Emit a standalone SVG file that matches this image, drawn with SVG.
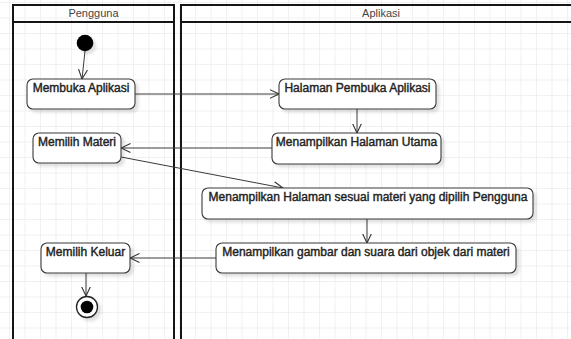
<svg xmlns="http://www.w3.org/2000/svg" width="571" height="339" viewBox="0 0 571 339">
<defs>
<pattern id="grid" x="9" y="2" width="15.5" height="15.5" patternUnits="userSpaceOnUse">
<path d="M0 0V15.5M0 0H15.5" fill="none" stroke="#e3e3e3" stroke-width="1"/>
</pattern>
<filter id="sh" x="-20%" y="-20%" width="150%" height="160%">
<feDropShadow dx="3" dy="3" stdDeviation="1.5" flood-color="#000" flood-opacity="0.12"/>
</filter>
<marker id="arr" viewBox="0 0 10 10" refX="9.5" refY="5" markerWidth="10" markerHeight="10" markerUnits="userSpaceOnUse" orient="auto">
<path d="M0 0.5L9.5 5L0 9.5" fill="none" stroke="#333" stroke-width="1.1"/>
</marker>
<style>
.lane{fill:none;stroke:#151515;stroke-width:2}
.hdr{font-family:"Liberation Sans",Arial,sans-serif;font-size:11px;fill:#444;text-anchor:middle}
.node rect{fill:#fff;stroke:#3a3a3a;stroke-width:1.1;filter:url(#sh)}
.node text{font-family:"Liberation Sans",Arial,sans-serif;font-size:12px;fill:#222;text-anchor:middle;stroke:#222;stroke-width:0.4}
.conn path{fill:none;stroke:#3a3a3a;stroke-width:1;marker-end:url(#arr)}
</style>
</defs>
<rect width="571" height="339" fill="#fff"/>
<rect width="571" height="339" fill="url(#grid)"/>
<g id="lane-pengguna">
<rect x="13" y="5" width="161" height="340" class="lane"/>
<rect x="13" y="5" width="161" height="17" fill="#fff" class="lane"/>
<text class="hdr" x="93.5" y="17">Pengguna</text>
</g>
<g id="lane-aplikasi">
<rect x="181" y="5" width="400" height="340" class="lane"/>
<rect x="181" y="5" width="400" height="17" fill="#fff" class="lane"/>
<text class="hdr" x="381" y="17">Aplikasi</text>
</g>
<g id="conns" class="conn">
<path d="M85 51L82 79"/>
<path d="M135 94H279"/>
<path d="M357 109V133"/>
<path d="M272 148H121"/>
<path d="M121 157L283 188"/>
<path d="M367 219V243"/>
<path d="M216 258H130"/>
<path d="M86 273V296"/>
</g>
<g id="start">
<circle cx="85" cy="43" r="8.3" fill="#000" filter="url(#sh)"/>
</g>
<g id="n1" class="node"><rect x="27" y="79" width="108" height="30" rx="6"/><text x="81" y="92">Membuka Aplikasi</text></g>
<g id="n2" class="node"><rect x="279" y="79" width="157" height="30" rx="6"/><text x="357.5" y="92">Halaman Pembuka Aplikasi</text></g>
<g id="n3" class="node"><rect x="272" y="133" width="169" height="31" rx="6"/><text x="356.5" y="146">Menampilkan Halaman Utama</text></g>
<g id="n4" class="node"><rect x="33" y="133" width="88" height="30" rx="6"/><text x="77" y="146">Memilih Materi</text></g>
<g id="n5" class="node"><rect x="202" y="188" width="331" height="31" rx="6"/><text x="368" y="201">Menampilkan Halaman sesuai materi yang dipilih Pengguna</text></g>
<g id="n6" class="node"><rect x="216" y="243" width="300" height="30" rx="6"/><text x="366" y="256">Menampilkan gambar dan suara dari objek dari materi</text></g>
<g id="n7" class="node"><rect x="41" y="243" width="89" height="30" rx="6"/><text x="85.5" y="256">Memilih Keluar</text></g>
<g id="end">
<circle cx="87" cy="307" r="10.5" fill="#fff" stroke="#222" stroke-width="1.3" filter="url(#sh)"/>
<circle cx="87" cy="307" r="6.3" fill="#000"/>
</g>
</svg>
